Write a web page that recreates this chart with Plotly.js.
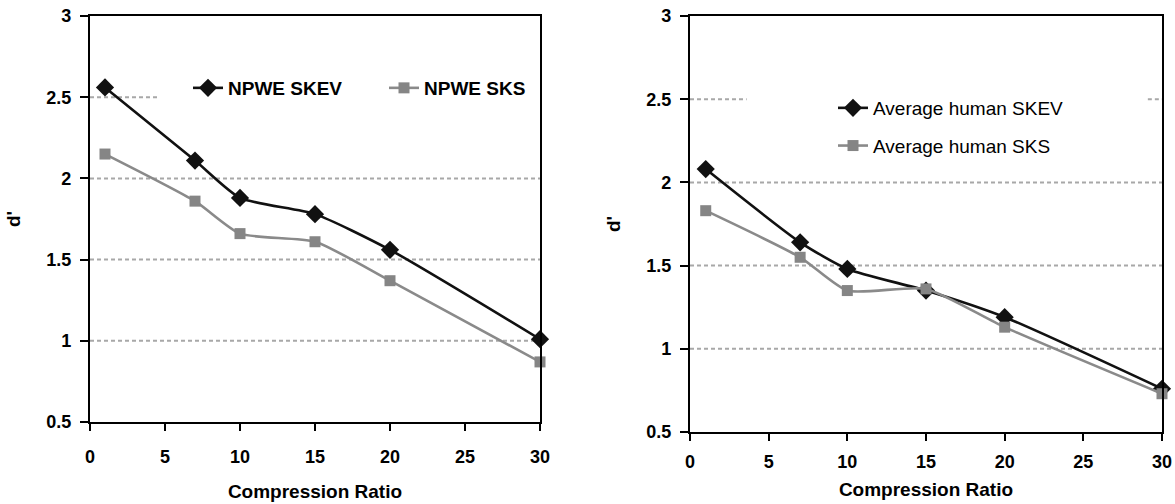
<!DOCTYPE html>
<html>
<head>
<meta charset="utf-8">
<script src="https://cdn.plot.ly/plotly-3.0.1.min.js"></script>
<style>html,body{margin:0;padding:0;background:#fff;}#chart{width:1175px;height:504px;}</style>
</head>
<body>
<div id="chart"></div>
<script>
// ---- data ----
const compressionRatio = [1, 7, 10, 15, 20, 30];
const npweSKEV = [2.56, 2.11, 1.88, 1.78, 1.56, 1.01];
const npweSKS  = [2.15, 1.86, 1.66, 1.61, 1.37, 0.87];
const humanSKEV = [2.08, 1.64, 1.48, 1.35, 1.19, 0.76];
const humanSKS  = [1.83, 1.55, 1.35, 1.36, 1.13, 0.73];
const seriesNames = ['NPWE SKEV', 'NPWE SKS', 'Average human SKEV', 'Average human SKS'];
const xTitle = 'Compression Ratio';
const yTitle = "d'";
const gridValues = [1, 1.5, 2];

// ---- styles ----
const FONT = 'Liberation Sans, Arial, Helvetica, sans-serif';
const black = '#111111';
const gray = '#8a8a8a';
const gridColor = '#a8a8a8';

function trace(y, name, xa, ya, isDiamond, legend, group) {
  return {
    x: compressionRatio, y: y, name: name, xaxis: xa, yaxis: ya,
    type: 'scatter', mode: 'lines+markers', cliponaxis: false,
    line: {color: isDiamond ? black : gray, width: 2.6, shape: 'spline', smoothing: 0.6},
    marker: isDiamond ? {symbol: 'diamond', size: 14, color: black}
                      : {symbol: 'square', size: 11, color: '#858585'},
    legend: legend, legendgroup: group
  };
}

const data = [
  trace(npweSKEV, seriesNames[0], 'x', 'y', true, 'legend', 'a'),
  trace(npweSKS, seriesNames[1], 'x', 'y', false, 'legend', 'b'),
  trace(humanSKEV, seriesNames[2], 'x2', 'y2', true, 'legend2', 'c'),
  trace(humanSKS, seriesNames[3], 'x2', 'y2', false, 'legend2', 'd')
];

const W = 1175, H = 504;
function tickFont() { return {family: FONT, size: 18, color: '#000', weight: 'bold'}; }
function titleFont() { return {family: FONT, size: 19, color: '#000', weight: 'bold'}; }

function xaxis(domain, anchor, standoff, labelGap) {
  return {
    domain: domain, anchor: anchor, range: [0, 30], dtick: 5, tick0: 0, tickmode: 'linear',
    showgrid: false, zeroline: false, showline: true, linecolor: '#000', linewidth: 2.2, mirror: true,
    ticks: 'outside', ticklen: 7, tickwidth: 2, tickcolor: '#000',
    tickfont: tickFont(), ticklabelstandoff: labelGap, fixedrange: true,
    title: {text: xTitle, font: titleFont(), standoff: standoff}
  };
}
function yaxis(domain, anchor, standoff) {
  return {
    domain: domain, anchor: anchor, range: [0.5, 3], dtick: 0.5, tick0: 0.5, tickmode: 'linear',
    showgrid: false, zeroline: false, showline: true, linecolor: '#000', linewidth: 2.2, mirror: true,
    ticks: 'outside', ticklen: 8, tickwidth: 2, tickcolor: '#000',
    tickfont: tickFont(), ticklabelstandoff: 5, fixedrange: true,
    title: {text: yTitle, font: titleFont(), standoff: standoff}
  };
}

const shapes = [];
function gridLine(xref, yref, y, x0, x1) {
  shapes.push({type: 'line', xref: xref, yref: yref, x0: x0, x1: x1, y0: y, y1: y,
    layer: 'below', line: {color: gridColor, width: 2, dash: '4px,3px'}});
}
gridValues.forEach(v => { gridLine('x', 'y', v, 0, 30); gridLine('x2', 'y2', v, 0, 30); });
gridLine('x', 'y', 2.5, 0, 4.6);
gridLine('x2', 'y2', 2.5, 0, 3.6);
gridLine('x2', 'y2', 2.5, 29.1, 30);

const layout = {
  width: W, height: H,
  margin: {l: 0, r: 0, t: 0, b: 0},
  paper_bgcolor: '#fff', plot_bgcolor: '#fff',
  font: {family: FONT, color: '#000'},
  showlegend: true,
  xaxis: xaxis([90 / W, 540 / W], 'y', 19, 10),
  yaxis: yaxis([1 - 422 / H, 1 - 16 / H], 'x', 21),
  xaxis2: xaxis([690 / W, 1162 / W], 'y2', 12, 5),
  yaxis2: yaxis([1 - 432 / H, 1 - 16 / H], 'x2', 21),
  legend: {
    orientation: 'h', x: 188 / W, xanchor: 'left', y: 1 - 88 / H, yanchor: 'middle',
    font: {family: FONT, size: 19, color: '#000', weight: 'bold'},
    bgcolor: 'rgba(0,0,0,0)', borderwidth: 0,
    entrywidthmode: 'pixels', entrywidth: 151
  },
  legend2: {
    orientation: 'v', x: 833 / W, xanchor: 'left', y: 1 - 89 / H, yanchor: 'top',
    font: {family: FONT, size: 19, color: '#000', weight: 'normal'},
    bgcolor: 'rgba(0,0,0,0)', borderwidth: 0, tracegroupgap: 10
  },
  shapes: shapes
};

Plotly.newPlot('chart', data, layout, {staticPlot: true, displayModeBar: false});
</script>
</body>
</html>
